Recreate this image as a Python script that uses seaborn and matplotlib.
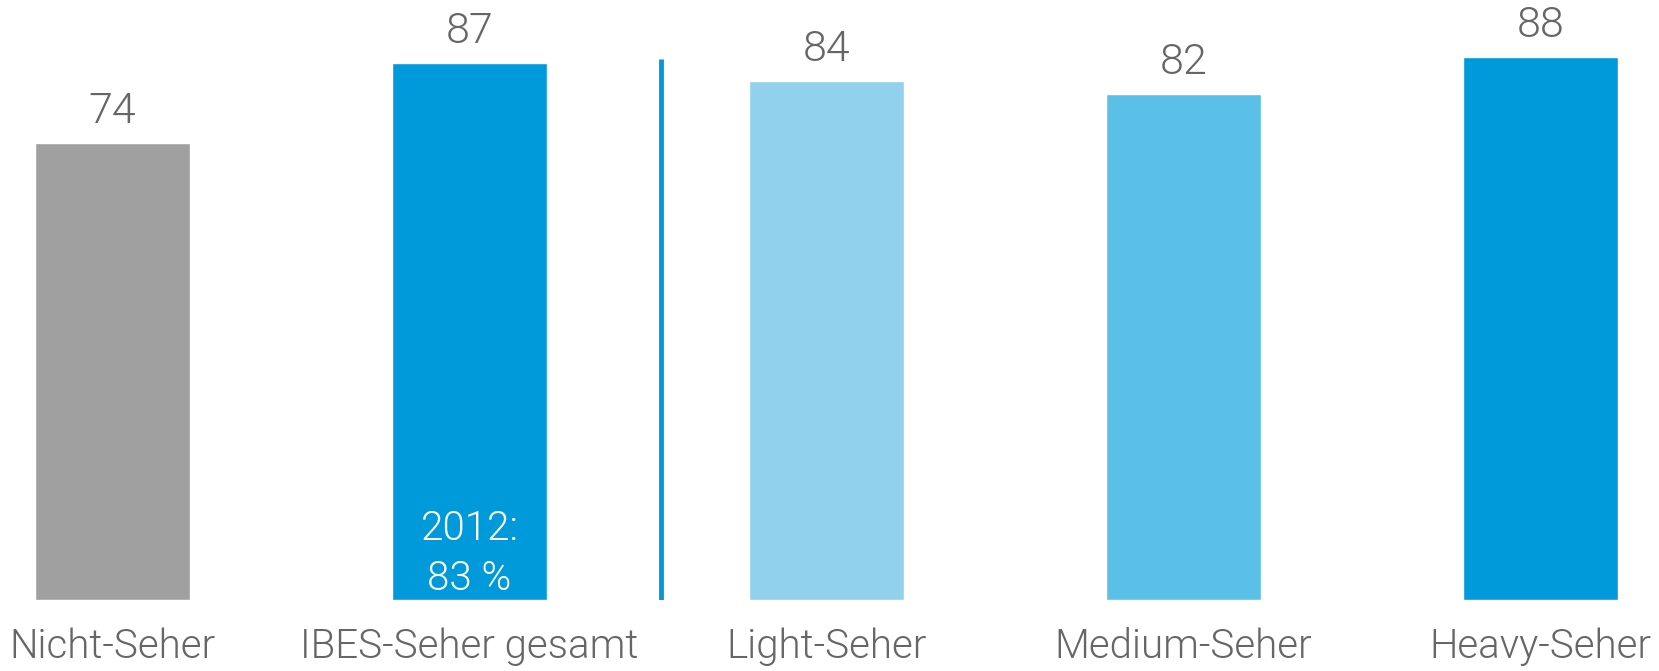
import matplotlib
matplotlib.use("Agg")
import matplotlib.pyplot as plt
import seaborn as sns
import pandas as pd
from matplotlib import font_manager

categories = ["Nicht-Seher", "IBES-Seher gesamt", "Light-Seher", "Medium-Seher", "Heavy-Seher"]
values = [74, 87, 84, 82, 88]
colors = ["#A0A0A0", "#009ADA", "#92D1EE", "#5BC0E8", "#009ADA"]
note_text = "2012:\n83 %"

sns.set_theme(style="white")
avail = {f.name for f in font_manager.fontManager.ttflist}
fam = [f for f in ["Liberation Sans Narrow", "Roboto", "DejaVu Sans"] if f in avail]
plt.rcParams["font.family"] = fam

df = pd.DataFrame({"cat": categories, "val": values})
fig = plt.figure(figsize=(16.59, 6.71), dpi=100)
ax = fig.add_axes([0, 71 / 671, 1, 600 / 671])
sns.barplot(data=df, x="cat", y="val", hue="cat", palette=colors, width=0.434,
            legend=False, ax=ax, saturation=1)
ax.set_xlim(-0.315, 4.332)
ax.set_ylim(0, 97.2)
for s in ax.spines.values():
    s.set_visible(False)
ax.set_yticks([])
ax.set_xlabel("")
ax.set_ylabel("")
ax.tick_params(axis="x", length=0, pad=20, labelsize=29, labelcolor="#666666")
for lab in ax.get_xticklabels():
    lab.set_fontweight(300)

txtc = "#666666"
for i, v in enumerate(values):
    ax.annotate(f"{v}", (i, v), xytext=(0, 8), textcoords="offset points",
                ha="center", va="bottom", fontsize=31, color=txtc, fontweight=300)

ax.text(1, 0.4, note_text, ha="center", va="bottom", fontsize=29, color="white",
        linespacing=1.35, fontweight=300)

ax.plot([1.536, 1.536], [0, 87.6], color="#009ADA", lw=3.5, solid_capstyle="butt")

fig.savefig("out.png", dpi=100)
